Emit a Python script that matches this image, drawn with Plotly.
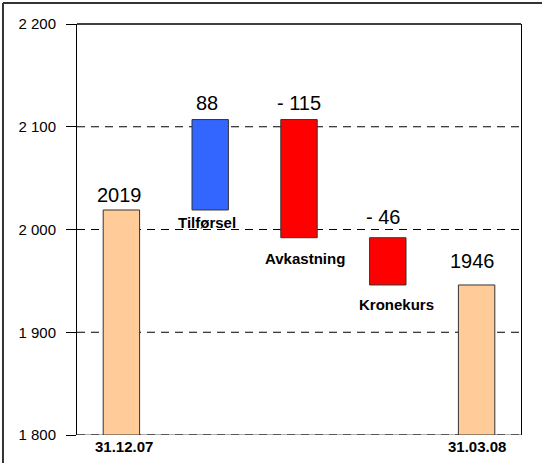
import plotly.graph_objects as go

categories = ["31.12.07", "Tilførsel", "Avkastning", "Kronekurs", "31.03.08"]
values = [2019, 88, -115, -46, 1946]
measures = ["absolute", "relative", "relative", "relative", "absolute"]
value_labels = ["2019", "88", "- 115", "- 46", "1946"]
tick_vals = [1800, 1900, 2000, 2100, 2200]
tick_text = ["1 800", "1 900", "2 000", "2 100", "2 200"]

# style
colors = ["#FFCC99", "#3366FF", "#FF0000", "#FF0000", "#FFCC99"]
value_yshift = [2, 4, 4, 8, 11]
value_xshift = [-2, -3, 0, -5, -4]
name_yshift = [0, -2, -10, -9, 0]
name_xshift = [3, -3, 6, 9, 0]
FONT = "Liberation Sans, Arial"

# compute bases/lengths from the data
bases, lengths, tops, bottoms = [], [], [], []
running = 0
for v, m in zip(values, measures):
    if m == "absolute":
        base, length = 1800, v - 1800
        running = v
    else:
        base, length = running, v
        running = running + v
    bases.append(base)
    lengths.append(length)
    tops.append(max(base, base + length))
    bottoms.append(min(base, base + length))

x = list(range(len(categories)))

fig = go.Figure()
fig.add_trace(go.Bar(
    x=x, y=lengths, base=bases, width=0.41,
    marker=dict(color=colors, line=dict(color="#333333", width=1)),
    hoverinfo="skip", showlegend=False,
))

annotations = []
for i in range(len(categories)):
    annotations.append(dict(
        x=x[i], y=tops[i], xref="x", yref="y", text=value_labels[i],
        showarrow=False, yanchor="bottom", yshift=value_yshift[i], xshift=value_xshift[i],
        font=dict(family=FONT, size=20, color="#000000"),
    ))
    if measures[i] == "relative":
        annotations.append(dict(
            x=x[i], y=bottoms[i], xref="x", yref="y", text="<b>" + categories[i] + "</b>",
            showarrow=False, yanchor="top", yshift=name_yshift[i], xshift=name_xshift[i],
            font=dict(family=FONT, size=15, color="#000000"),
        ))
    else:
        annotations.append(dict(
            x=x[i], y=0, xref="x", yref="paper", text="<b>" + categories[i] + "</b>",
            showarrow=False, yanchor="top", yshift=-1, xshift=name_xshift[i],
            font=dict(family=FONT, size=15, color="#000000"),
        ))

shapes = []
shapes.append(dict(type="line", xref="paper", yref="y", x0=0, x1=1, y0=1800, y1=1800,
                   line=dict(color="#999999", width=1.5), layer="below"))
for yv in [1800, 1900, 2000, 2100]:
    shapes.append(dict(type="line", xref="paper", yref="y", x0=0, x1=1, y0=yv, y1=yv,
                       line=dict(color="#000000", width=1, dash="8px,6px"), layer="below"))
# outer frame (left & top)
shapes.append(dict(type="line", xref="paper", yref="paper", x0=-0.1667, x1=-0.1667, y0=-0.2, y1=1.051,
                   line=dict(color="#333333", width=2)))
shapes.append(dict(type="line", xref="paper", yref="paper", x0=-0.1667, x1=1.2, y0=1.051, y1=1.051,
                   line=dict(color="#333333", width=2)))
# top border of plot area
shapes.append(dict(type="line", xref="paper", yref="paper", x0=0, x1=1, y0=1, y1=1,
                   line=dict(color="#000000", width=1.5)))

fig.update_layout(
    width=542, height=463,
    margin=dict(l=77, r=21, t=24, b=28),
    paper_bgcolor="white", plot_bgcolor="white",
    annotations=annotations, shapes=shapes,
    xaxis=dict(
        range=[-0.5, 4.5], showticklabels=False,
        showgrid=False, zeroline=False, showline=False, ticks="",
    ),
    yaxis=dict(
        range=[1800, 2200], tickvals=tick_vals, ticktext=tick_text,
        showgrid=False, zeroline=False,
        showline=True, mirror=True, linecolor="#000000", linewidth=1,
        ticks="outside", ticklen=10, tickcolor="#000000",
        ticklabelstandoff=7,
        tickfont=dict(family=FONT, size=15, color="#000000"),
    ),
)

fig.write_html("out.html", config={"displayModeBar": False},
               post_script="document.body.style.margin='0';document.body.style.padding='0';")
